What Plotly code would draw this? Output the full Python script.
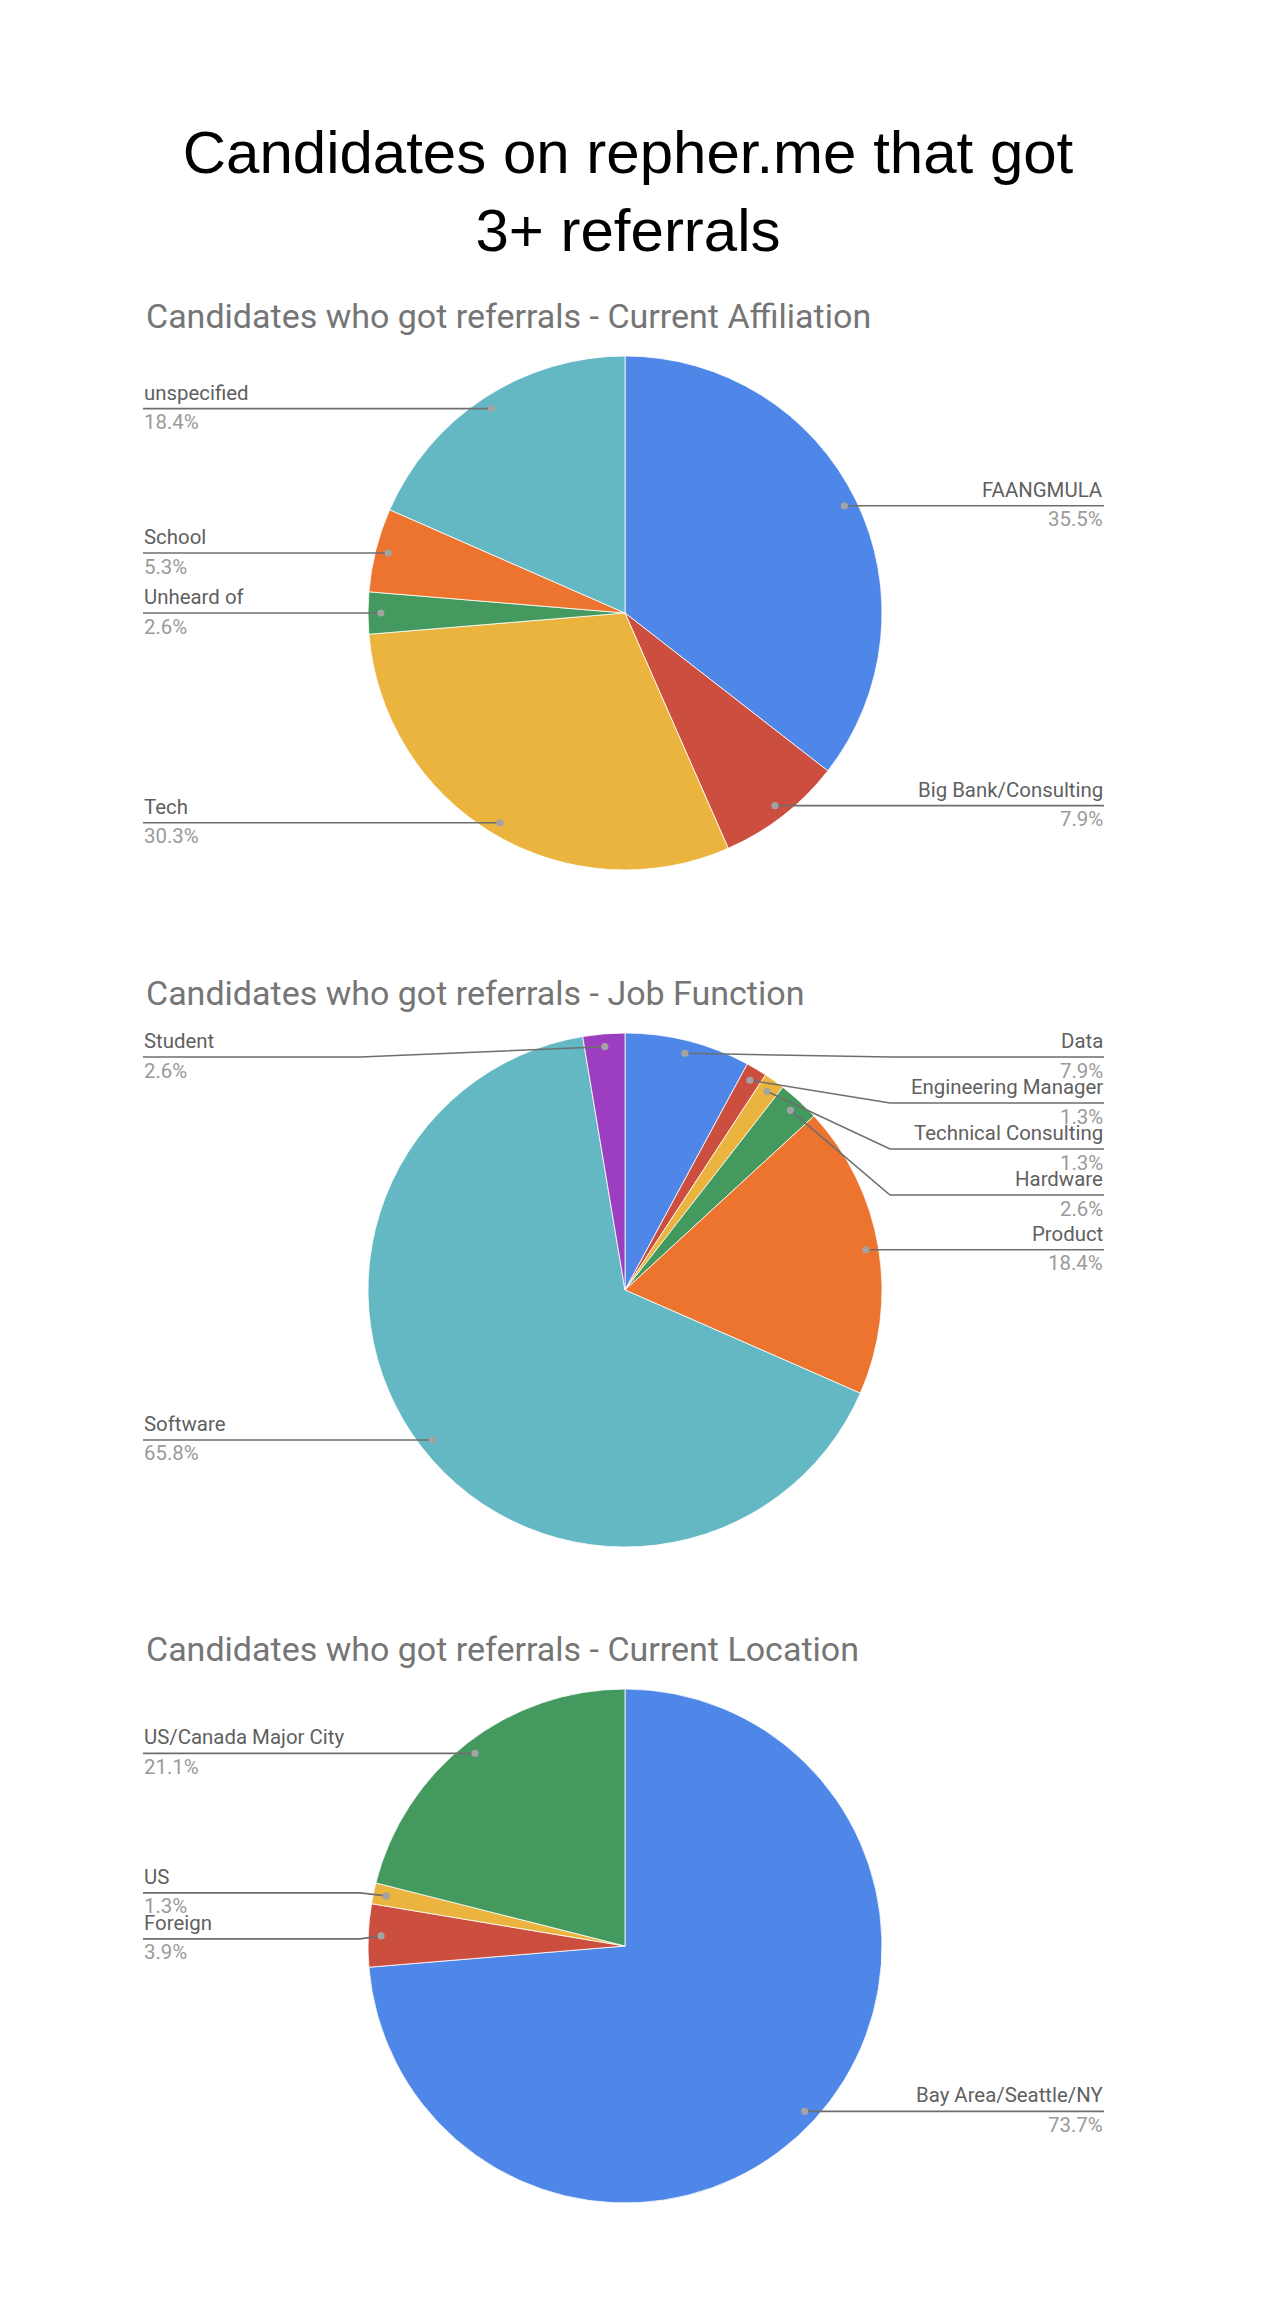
import math
import plotly.graph_objects as go

# ---------------- data ----------------
affil_labels = ["FAANGMULA", "Big Bank/Consulting", "Tech", "Unheard of", "School", "unspecified"]
affil_counts = [27, 6, 23, 2, 4, 14]

job_labels = ["Data", "Engineering Manager", "Technical Consulting", "Hardware", "Product", "Software", "Student"]
job_counts = [6, 1, 1, 2, 14, 50, 2]

loc_labels = ["Bay Area/Seattle/NY", "Foreign", "US", "US/Canada Major City"]
loc_counts = [56, 3, 1, 16]

main_title = "Candidates on repher.me that got<br>3+ referrals"
sub_titles = ["Candidates who got referrals - Current Affiliation",
              "Candidates who got referrals - Job Function",
              "Candidates who got referrals - Current Location"]

# ---------------- style ----------------
W, H = 1280, 2304
BLUE, RED, YELLOW, GREEN = "#4F87E8", "#CC4E3F", "#EBB43E", "#449A5E"
ORANGE, TEAL, PURPLE = "#EC742F", "#63B8C3", "#9B3FC0"
palettes = [[BLUE, RED, YELLOW, GREEN, ORANGE, TEAL],
            [BLUE, RED, YELLOW, GREEN, ORANGE, TEAL, PURPLE],
            [BLUE, RED, YELLOW, GREEN]]

CX = 625
CYS = [613, 1290, 1946]
R = 257
SUB_Y = [316, 993, 1649]
LEFT_X, RIGHT_X = 143, 1104
GAP = 46
DOT_FRAC = 0.95
LABEL_FONT = "Roboto, Arial, sans-serif"
LABEL_SIZE = 20.4
NAME_COLOR = "#5f5f5f"
PCT_COLOR = "#9a9a9a"
LINE_COLOR = "#6e6e6e"
DOT_COLOR = "#a3a3a3"


def px(x):
    return x / W


def py(y):
    return 1 - y / H


def layout_side(items, ymin, ymax):
    """items: list of dicts with 'dy'; assigns 'ly' avoiding overlap."""
    items = sorted(items, key=lambda d: d["dy"])
    groups = [[it] for it in items]

    def place(g):
        n = len(g)
        mean = sum(i["dy"] for i in g) / n
        start = mean - (n - 1) * GAP / 2
        start = max(ymin, min(start, ymax - (n - 1) * GAP))
        return start

    changed = True
    while changed:
        changed = False
        starts = [place(g) for g in groups]
        for k in range(len(groups) - 1):
            end_k = starts[k] + (len(groups[k]) - 1) * GAP
            if starts[k + 1] - end_k < GAP - 0.01:
                groups[k] = groups[k] + groups[k + 1]
                del groups[k + 1]
                changed = True
                break
    for g in groups:
        s = place(g)
        for j, it in enumerate(g):
            it["ly"] = s + j * GAP
    return items


fig = go.Figure()
shapes = []
annotations = []

datasets = [(affil_labels, affil_counts), (job_labels, job_counts), (loc_labels, loc_counts)]

for idx, (labels, counts) in enumerate(datasets):
    cy = CYS[idx]
    fig.add_trace(go.Pie(
        labels=labels, values=counts, sort=False, direction="clockwise", rotation=0,
        marker=dict(colors=palettes[idx], line=dict(color="white", width=0.8)),
        textinfo="none", hoverinfo="label+percent", showlegend=False,
        domain=dict(x=[px(CX - R), px(CX + R)], y=[py(cy + R), py(cy - R)]),
    ))
    annotations.append(dict(
        text=sub_titles[idx], x=px(LEFT_X + 1), y=py(SUB_Y[idx]), xref="paper", yref="paper",
        xanchor="left", yanchor="middle", showarrow=False,
        font=dict(family=LABEL_FONT, size=34, color="#757575"),
    ))

    total = sum(counts)
    cum = 0
    left, right = [], []
    for lab, v in zip(labels, counts):
        mid = (cum + v / 2) / total * 2 * math.pi
        cum += v
        dx = CX + DOT_FRAC * R * math.sin(mid)
        dy = cy - DOT_FRAC * R * math.cos(mid)
        item = dict(label=lab, pct=f"{100 * v / total:.1f}%", dx=dx, dy=dy)
        (left if dx < CX else right).append(item)

    ymin = cy - R + 24
    ymax = cy + R - 24
    for side, items in (("left", left), ("right", right)):
        items = layout_side(items, ymin, ymax)
        for it in items:
            edge = LEFT_X if side == "left" else RIGHT_X
            bend = CX - R - 8 if side == "left" else CX + R + 8
            ly = it["ly"]
            if abs(ly - it["dy"]) > 1.5:
                path = (f"M {px(it['dx'])} {py(it['dy'])} L {px(bend)} {py(ly)} "
                        f"L {px(edge)} {py(ly)}")
            else:
                path = f"M {px(it['dx'])} {py(ly)} L {px(edge)} {py(ly)}"
            shapes.append(dict(type="path", path=path, xref="paper", yref="paper",
                               line=dict(color=LINE_COLOR, width=1.6), layer="above"))
            shapes.append(dict(type="circle", xref="paper", yref="paper",
                               x0=px(it["dx"] - 3.6), x1=px(it["dx"] + 3.6),
                               y0=py(it["dy"] + 3.6), y1=py(it["dy"] - 3.6),
                               fillcolor=DOT_COLOR, line=dict(width=0), layer="above"))
            xa = "left" if side == "left" else "right"
            annotations.append(dict(
                text=it["label"], x=px(edge), y=py(ly - 3.0), xref="paper", yref="paper",
                xanchor=xa, yanchor="bottom", showarrow=False, borderpad=0,
                font=dict(family=LABEL_FONT, size=LABEL_SIZE, color=NAME_COLOR),
            ))
            annotations.append(dict(
                text=it["pct"], x=px(edge), y=py(ly + 0.5), xref="paper", yref="paper",
                xanchor=xa, yanchor="top", showarrow=False, borderpad=0,
                font=dict(family=LABEL_FONT, size=LABEL_SIZE, color=PCT_COLOR),
            ))

fig.update_layout(
    width=W, height=H, margin=dict(l=0, r=0, t=0, b=0),
    paper_bgcolor="white", plot_bgcolor="white",
    title=dict(text=main_title, x=px(628), xanchor="center", y=py(173), yanchor="middle",
               font=dict(family="Liberation Sans, Arial, sans-serif", size=60, color="black")),
    shapes=shapes, annotations=annotations,
)

fig.write_html("out.html")
